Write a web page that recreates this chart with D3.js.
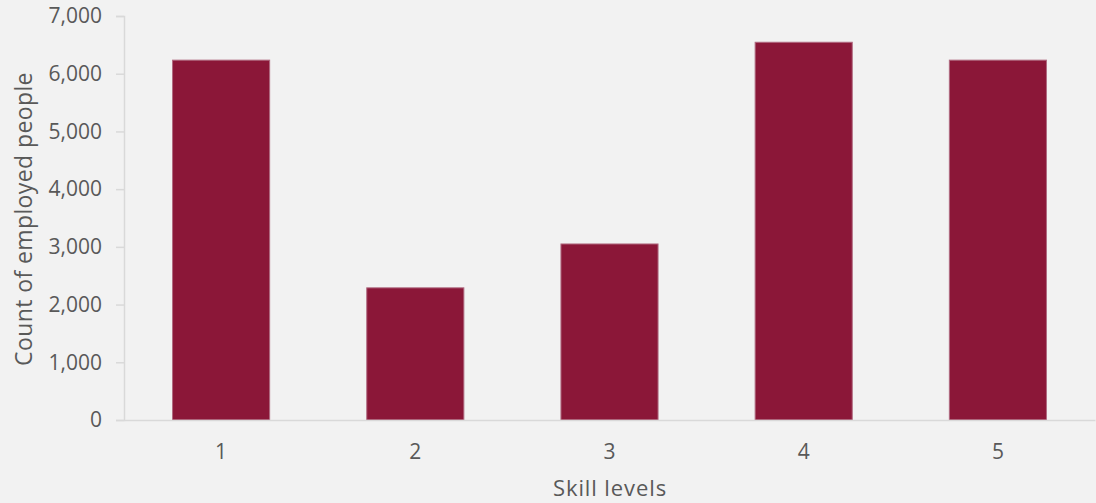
<!DOCTYPE html>
<html>
<head>
<meta charset="utf-8">
<script src="https://cdn.jsdelivr.net/npm/d3@7"></script>
<style>
  html, body { margin: 0; padding: 0; background: #f2f2f2; }
  svg { display: block; }
  text { font-family: "Open Sans", "Liberation Sans", sans-serif; fill: #595959; }
</style>
</head>
<body>
<svg id="chart" width="1096" height="503"></svg>
<script>
// Employment by skill level
const skillLevels = ["1", "2", "3", "4", "5"];
const employedCounts = [6235, 2290, 3050, 6545, 6235];
const yTicks = [0, 1000, 2000, 3000, 4000, 5000, 6000, 7000];

const width = 1096, height = 503;
const margin = { top: 16, right: 1, bottom: 83, left: 124 };

const svg = d3.select("#chart");
svg.append("rect").attr("width", width).attr("height", height).attr("fill", "#f2f2f2");

const x = d3.scaleBand()
  .domain(skillLevels)
  .range([margin.left, width - margin.right])
  .paddingInner(0.5)
  .paddingOuter(0.25);

const y = d3.scaleLinear()
  .domain([0, 7000])
  .range([height - margin.bottom, margin.top]);

// Y axis
const yAxis = svg.append("g")
  .attr("transform", `translate(${margin.left},0)`)
  .call(d3.axisLeft(y).tickValues(yTicks).tickFormat(d3.format(",")).tickSize(8).tickPadding(14));
yAxis.select(".domain").attr("stroke", "#d9d9d9").attr("stroke-width", 1.5);
yAxis.selectAll(".tick line").attr("stroke", "#d9d9d9").attr("stroke-width", 1.5);
yAxis.selectAll(".tick text").attr("font-size", 21).attr("fill", "#595959")
  .attr("font-family", "'Open Sans', sans-serif");

// Bars
svg.append("g").selectAll("rect")
  .data(skillLevels.map((s, i) => ({ level: s, value: employedCounts[i] })))
  .join("rect")
  .attr("x", d => x(d.level))
  .attr("y", d => y(d.value))
  .attr("width", x.bandwidth())
  .attr("height", d => y(0) - y(d.value))
  .attr("fill", "#8b1738")
  .attr("stroke", "#b06a80")
  .attr("stroke-width", 1);

// X axis
const xAxis = svg.append("g")
  .attr("transform", `translate(0,${y(0)})`)
  .call(d3.axisBottom(x).tickSize(0).tickPadding(24));
xAxis.select(".domain").attr("stroke", "#d9d9d9").attr("stroke-width", 1.5);
xAxis.selectAll(".tick text").attr("font-size", 21).attr("fill", "#595959")
  .attr("font-family", "'Open Sans', sans-serif");

// Axis titles
svg.append("text")
  .attr("x", 610)
  .attr("y", 496)
  .attr("text-anchor", "middle")
  .attr("font-size", 22)
  .attr("letter-spacing", 0.9)
  .text("Skill levels");

svg.append("text")
  .attr("transform", `translate(32,${(y(0) + y(7000)) / 2 + 1}) rotate(-90)`)
  .attr("text-anchor", "middle")
  .attr("font-size", 23)
  .attr("letter-spacing", 0.4)
  .text("Count of employed people");
</script>
</body>
</html>
